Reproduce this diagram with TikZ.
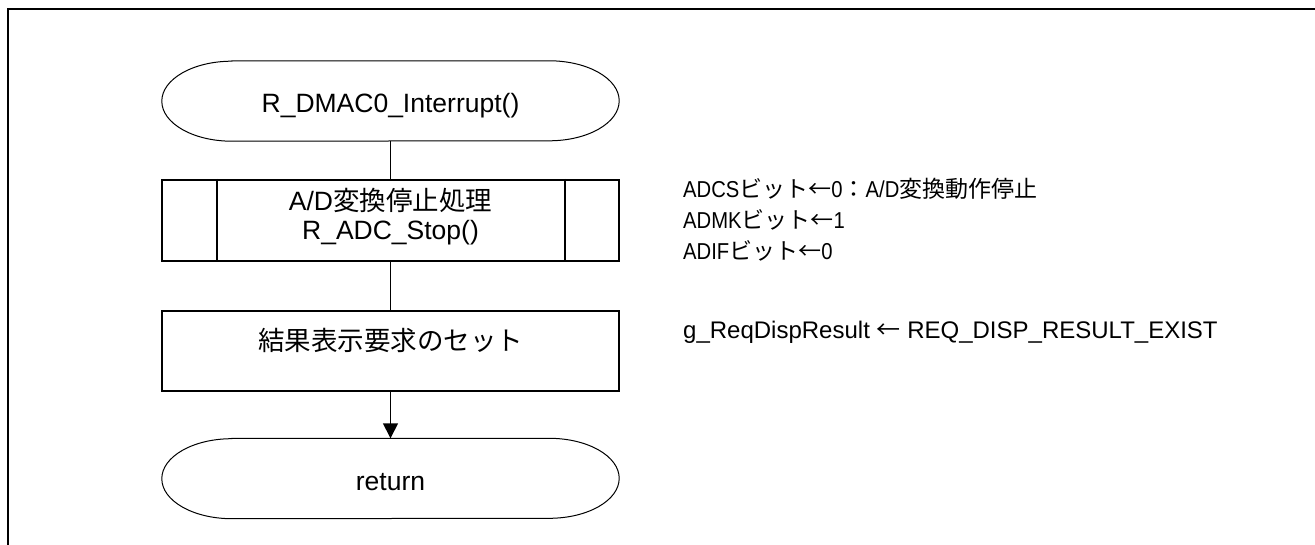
\documentclass[tikz,border=0pt]{standalone}
\usepackage{fontspec}
\setmainfont{Liberation Sans}
\newfontfamily\jp{Noto Sans CJK JP}
\newfontfamily\notefont[FakeStretch=0.88]{Liberation Sans}
\usetikzlibrary{calc,arrows.meta}
\tikzset{
  termnode/.style={rectangle, minimum width=457pt, minimum height=80pt, inner sep=0pt},
  procbox/.style={draw, line width=2pt, rectangle, minimum width=457pt, minimum height=80pt, inner sep=0pt},
  flowline/.style={line width=1.5pt},
  note/.style={anchor=base west, inner sep=0pt, font=\fontsize{23}{28}\notefont},
  assign/.style={anchor=base west, inner sep=0pt, font=\fontsize{24}{29}\selectfont},
}
\newcommand{\termOutline}[1]{%
  \draw[line width=1pt] ($(#1.north west)+(70pt,0)$) -- ($(#1.north east)+(-70pt,0)$)
    arc[start angle=90, end angle=-90, x radius=70pt, y radius=40pt]
    -- ($(#1.south west)+(70pt,0)$)
    arc[start angle=270, end angle=90, x radius=70pt, y radius=40pt] -- cycle;}

\begin{document}
\begin{tikzpicture}[x=1pt, y=1pt, font=\fontsize{26.5}{31}\selectfont]
        \useasboundingbox (0,0) rectangle (1315,-545);

        % Frame
        \draw[line width=2.5pt] (8,-545) -- (8,-9) -- (1315,-9);

        % Start terminal
        \node[termnode] (start) at (390.5,-101) {};
        \termOutline{start}
        \node[anchor=base] (startTxt) at ([yshift=-12pt]start.center) {R\_DMAC0\_Interrupt()};

        % Subroutine box
        \node[procbox, minimum height=81pt] (adstop) at (390.5,-220.5) {};
        \draw[line width=2pt] ([xshift=56pt]adstop.north west) -- ([xshift=56pt]adstop.south west);
        \draw[line width=2pt] ([xshift=-55pt]adstop.north east) -- ([xshift=-55pt]adstop.south east);
        \node[anchor=base] (adstopTxtA) at (390.5,-211) {A/D{\jp 変換停止処理}};
        \node[anchor=base] (adstopTxtB) at (390.5,-240) {R\_ADC\_Stop()};

        % Process box
        \node[procbox] (setreq) at (390.5,-351) {};
        \node[anchor=base] (setreqTxt) at (setreq.center) {\jp 結果表示要求のセット};

        % Return terminal
        \node[termnode] (ret) at (390.5,-478.5) {};
        \termOutline{ret}
        \node[anchor=base] (retTxt) at ([yshift=-11.5pt]ret.center) {return};

        % Connectors
        \draw[flowline] (start) -- (adstop);
        \draw[flowline] (adstop) -- (setreq);
        \draw[flowline, -{Triangle[width=15pt,length=15pt]}] (setreq) -- (ret);

        % Notes
        \foreach \txt [count=\i] in {{ADCS{\jp ビット←}0{\jp ：}A/D{\jp 変換動作停止}},
                                     {ADMK{\jp ビット←}1},
                                     {ADIF{\jp ビット←}0}}{
            \node[note] (note\i) at (683,-167-31*\i) {\txt};
        }
        \node[assign] (noteSet) at (683,-338) {g\_ReqDispResult {\jp ←} REQ\_DISP\_RESULT\_EXIST};

    \end{tikzpicture}
\end{document}
